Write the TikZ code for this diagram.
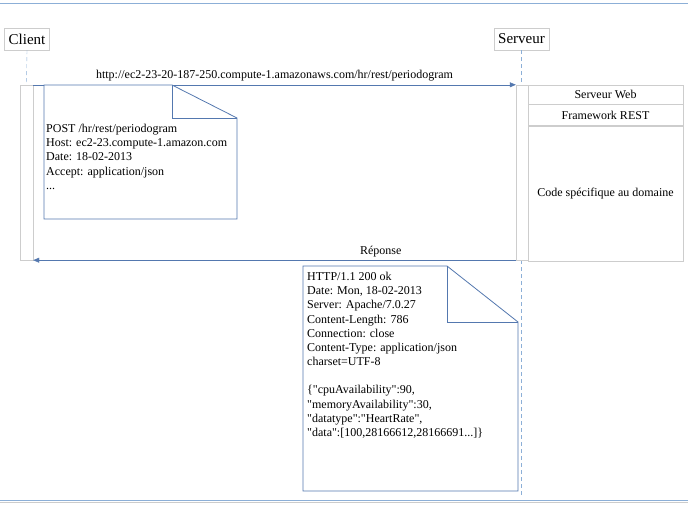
\documentclass[tikz,border=0pt]{standalone}
\usepackage{fontspec}
\setmainfont{Liberation Serif}[Ligatures=TeXOff]
\usetikzlibrary{arrows.meta}
\usetikzlibrary{positioning}
\definecolor{noteblue}{RGB}{84,120,175}
\definecolor{paleblue}{RGB}{140,175,215}
\definecolor{boxgray}{RGB}{205,205,205}

\begin{document}
\begin{tikzpicture}[x=1pt, y=-1pt,
  actor/.style={draw=boxgray, fill=white, font=\fontsize{15}{17}\selectfont, inner sep=4pt, minimum height=22pt},
  lifeline/.style={paleblue, dash pattern=on 4pt off 3pt},
  activation/.style={draw=boxgray, fill=white, inner sep=0pt},
  msg/.style={noteblue, -{Triangle[length=6pt, width=5pt]}},
  msglabel/.style={text=black, font=\fontsize{12}{14}\selectfont},
  layer/.style={draw=boxgray, fill=white, minimum width=155pt, inner sep=0pt, font=\fontsize{12}{14}\selectfont},
  note/.style={noteblue, line width=.8pt},
  notetext/.style={align=left, inner sep=0pt, anchor=north west, font=\fontsize{12}{14.2}\selectfont}]
\useasboundingbox (0,0) rectangle (688,505);
\draw[paleblue, line width=1pt] (0,4)--(688,4);
\draw[gray!40, line width=1pt] (0,502)--(688,502);
\draw[paleblue, line width=1.2pt] (0,500.5)--(688,500.5);
% acteurs
\node[actor] (client) at (27,39) {Client};
\node[actor] (serveur) at (521.5,39) {Serveur};
\coordinate (sEnd) at (521.5,497);
\node[activation, minimum width=13pt, minimum height=175pt] (cact) at (26.5,172.5) {};
\draw[lifeline] (client.south)--(cact.north);
\draw[lifeline] (serveur.south)--(sEnd);
\node[activation, minimum width=12pt, minimum height=175pt] (sact) at (522,172.5) {};
% pile serveur
\node[layer, minimum height=19pt] (web) at (605.5,94.5) {Serveur Web};
\node[layer, minimum height=21pt, below=0pt of web] (fw) {Framework REST};
\node[layer, minimum height=135pt, below=0pt of fw] (code) {Code spécifique au domaine};
% messages
\draw[msg] (cact.north east)--(sact.north west) node[msglabel, midway, above=0pt] {http://ec2-23-20-187-250.compute-1.amazonaws.com/hr/rest/periodogram};
\draw[msg] (sact.south west)--(cact.south east) node[msglabel, pos=.28, above=0pt] {Réponse};
% requete
\draw[note, fill=white] (44,85)--(172,85)--(237,118)--(237,219)--(44,219)--cycle;
\draw[note] (172,85)|-(237,118);
\node[notetext] (req) at (46,124) {POST /hr/rest/periodogram\\Host: ec2-23.compute-1.amazon.com\\Date: 18-02-2013\\Accept: application/json\\...};
% reponse
\draw[note, fill=white] (303,266)--(447,266)--(518,322)--(518,491)--(303,491)--cycle;
\draw[note] (447,266)|-(518,322);
\node[notetext] (rep) at (307,272) {HTTP/1.1 200 ok\\Date: Mon, 18-02-2013\\Server: Apache/7.0.27\\Content-Length: 786\\Connection: close\\Content-Type: application/json\\charset=UTF-8\\[14pt]\{"cpuAvailability":90,\\"memoryAvailability":30,\\"datatype":"HeartRate",\\"data":[100,28166612,28166691...]\}};
\end{tikzpicture}
\end{document}
